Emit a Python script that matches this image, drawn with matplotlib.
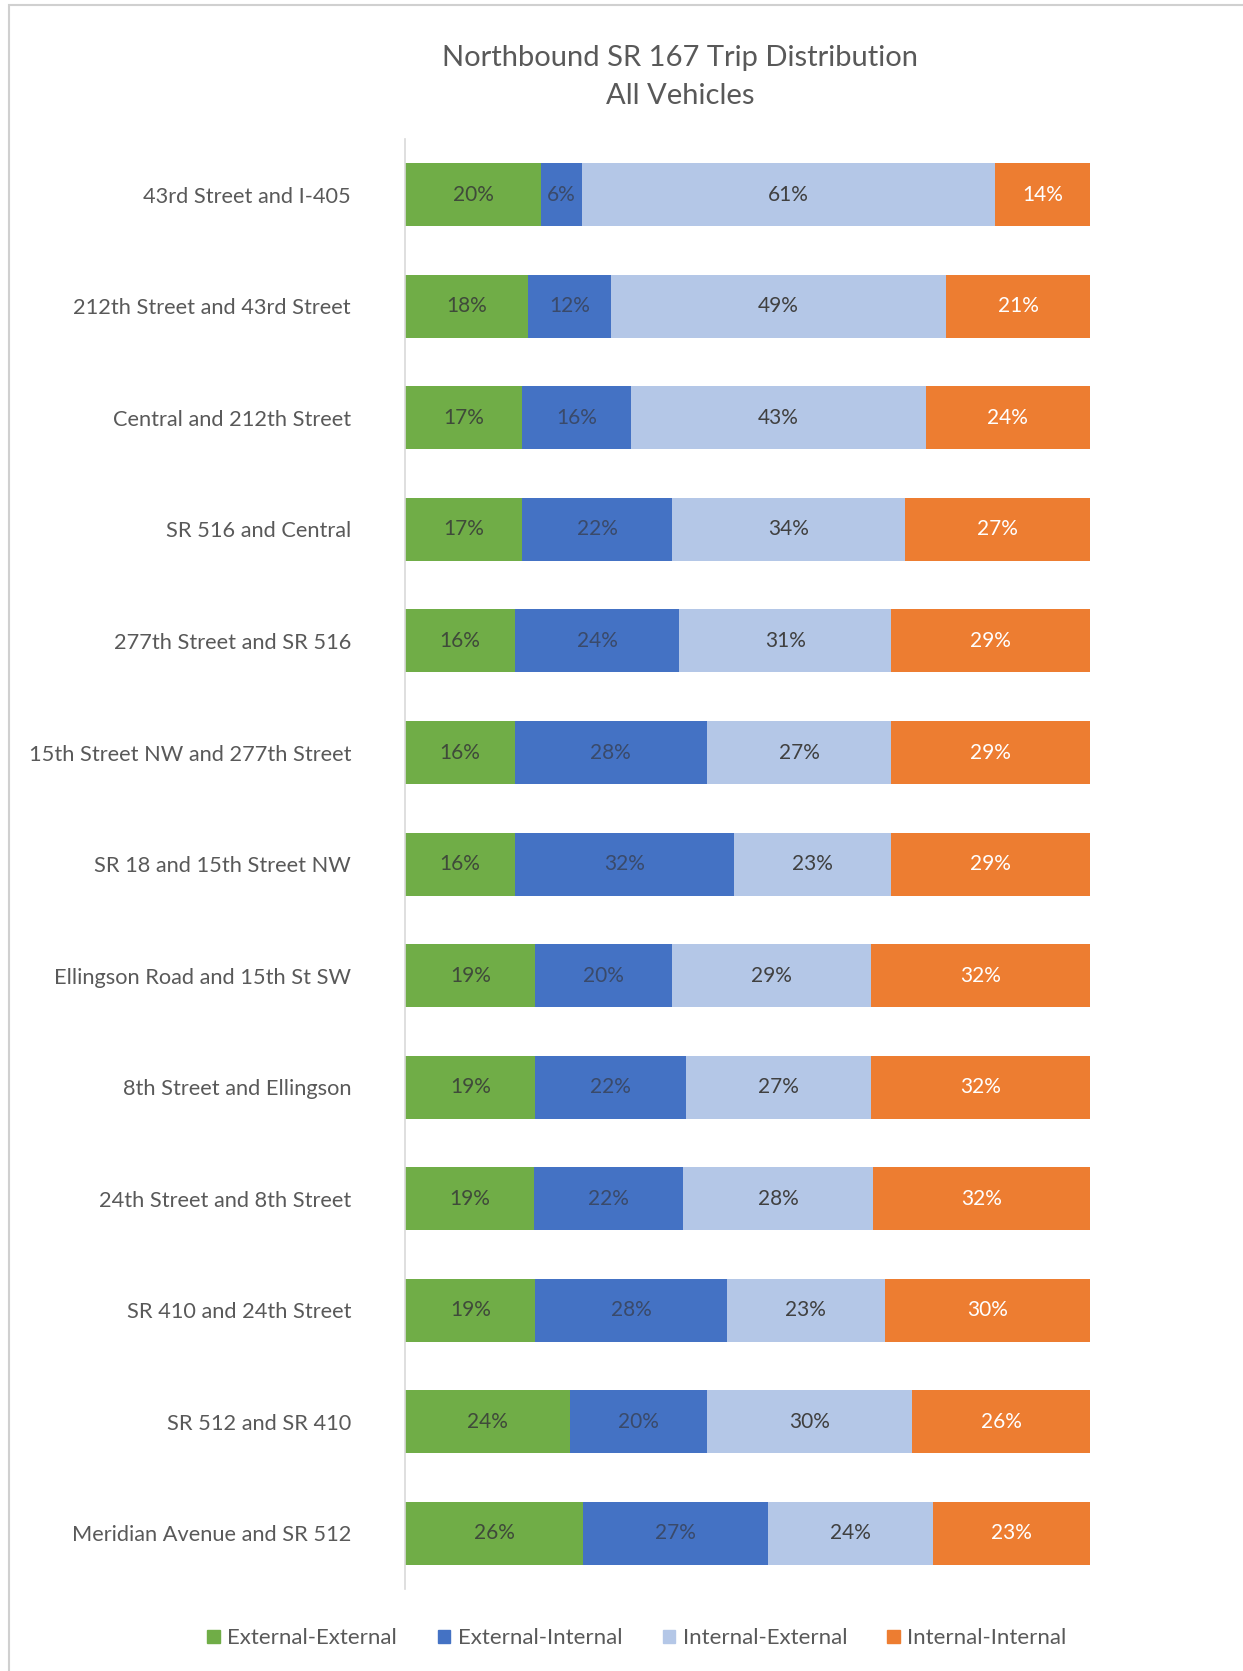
import matplotlib
matplotlib.use("Agg")
import matplotlib.pyplot as plt
from matplotlib.patches import Rectangle
import numpy as np

plt.rcParams['font.family'] = ['Lato', 'DejaVu Sans']

locations = [
    "43rd Street and I-405",
    "212th Street and 43rd Street",
    "Central and 212th Street",
    "SR 516 and Central",
    "277th Street and SR 516",
    "15th Street NW and 277th Street",
    "SR 18 and 15th Street NW",
    "Ellingson Road and 15th St SW",
    "8th Street and Ellingson",
    "24th Street and 8th Street",
    "SR 410 and 24th Street",
    "SR 512 and SR 410",
    "Meridian Avenue and SR 512",
]
external_external = [20, 18, 17, 17, 16, 16, 16, 19, 19, 19, 19, 24, 26]
external_internal = [6, 12, 16, 22, 24, 28, 32, 20, 22, 22, 28, 20, 27]
internal_external = [61, 49, 43, 34, 31, 27, 23, 29, 27, 28, 23, 30, 24]
internal_internal = [14, 21, 24, 27, 29, 29, 29, 32, 32, 32, 30, 26, 23]

series_names = ["External-External", "External-Internal",
                "Internal-External", "Internal-Internal"]
series_colors = ["#70AD47", "#4472C4", "#B4C7E7", "#ED7D31"]
label_colors = ["#3f4a3a", "#3a4a6a", "#404040", "#FFFFFF"]

values = np.array([external_external, external_internal,
                   internal_external, internal_internal], dtype=float)
shares = values / values.sum(axis=0) * 100.0

fig = plt.figure(figsize=(12.43, 16.71), dpi=100)
fig.patch.set_facecolor("white")
fig.add_artist(Rectangle((0.007, -0.01), 1.2, 1.007, transform=fig.transFigure,
                         fill=False, edgecolor="#D0D0D0", linewidth=1.5))

ax = fig.add_axes([0.326, 0.049, 0.551, 0.8678])
y = np.arange(len(locations))
left = np.zeros(len(locations))
for i in range(4):
    bars = ax.barh(y, shares[i], left=left, height=0.565,
                   color=series_colors[i], label=series_names[i], linewidth=0)
    for j, b in enumerate(bars):
        ax.text(left[j] + shares[i][j] / 2, y[j], f"{int(values[i][j])}%",
                ha="center", va="center", fontsize=15, color=label_colors[i])
    left += shares[i]

ax.set_xlim(0, 100)
ax.set_ylim(len(locations) - 0.5, -0.5)
ax.set_yticks(y)
ax.set_yticklabels(locations, fontsize=15.7, color="#595959")
ax.tick_params(axis="y", length=0, pad=39)
ax.set_xticks([])
for s in ["top", "right", "bottom"]:
    ax.spines[s].set_visible(False)
ax.spines["left"].set_color("#D9D9D9")
ax.spines["left"].set_linewidth(1.2)

fig.text(0.547, 0.9655, "Northbound SR 167 Trip Distribution", ha="center",
         va="center", fontsize=21, color="#595959")
fig.text(0.547, 0.9425, "All Vehicles", ha="center", va="center",
         fontsize=21, color="#595959")

handles = [Rectangle((0, 0), 1, 1, color=c) for c in series_colors]
fig.legend(handles, series_names, loc="center", bbox_to_anchor=(0.5125, 0.0195),
           ncol=4, frameon=False, fontsize=16, handlelength=0.55,
           handleheight=0.55, columnspacing=1.82, handletextpad=0.35,
           labelcolor="#595959")

fig.savefig("out.png", dpi=100, facecolor="white")
